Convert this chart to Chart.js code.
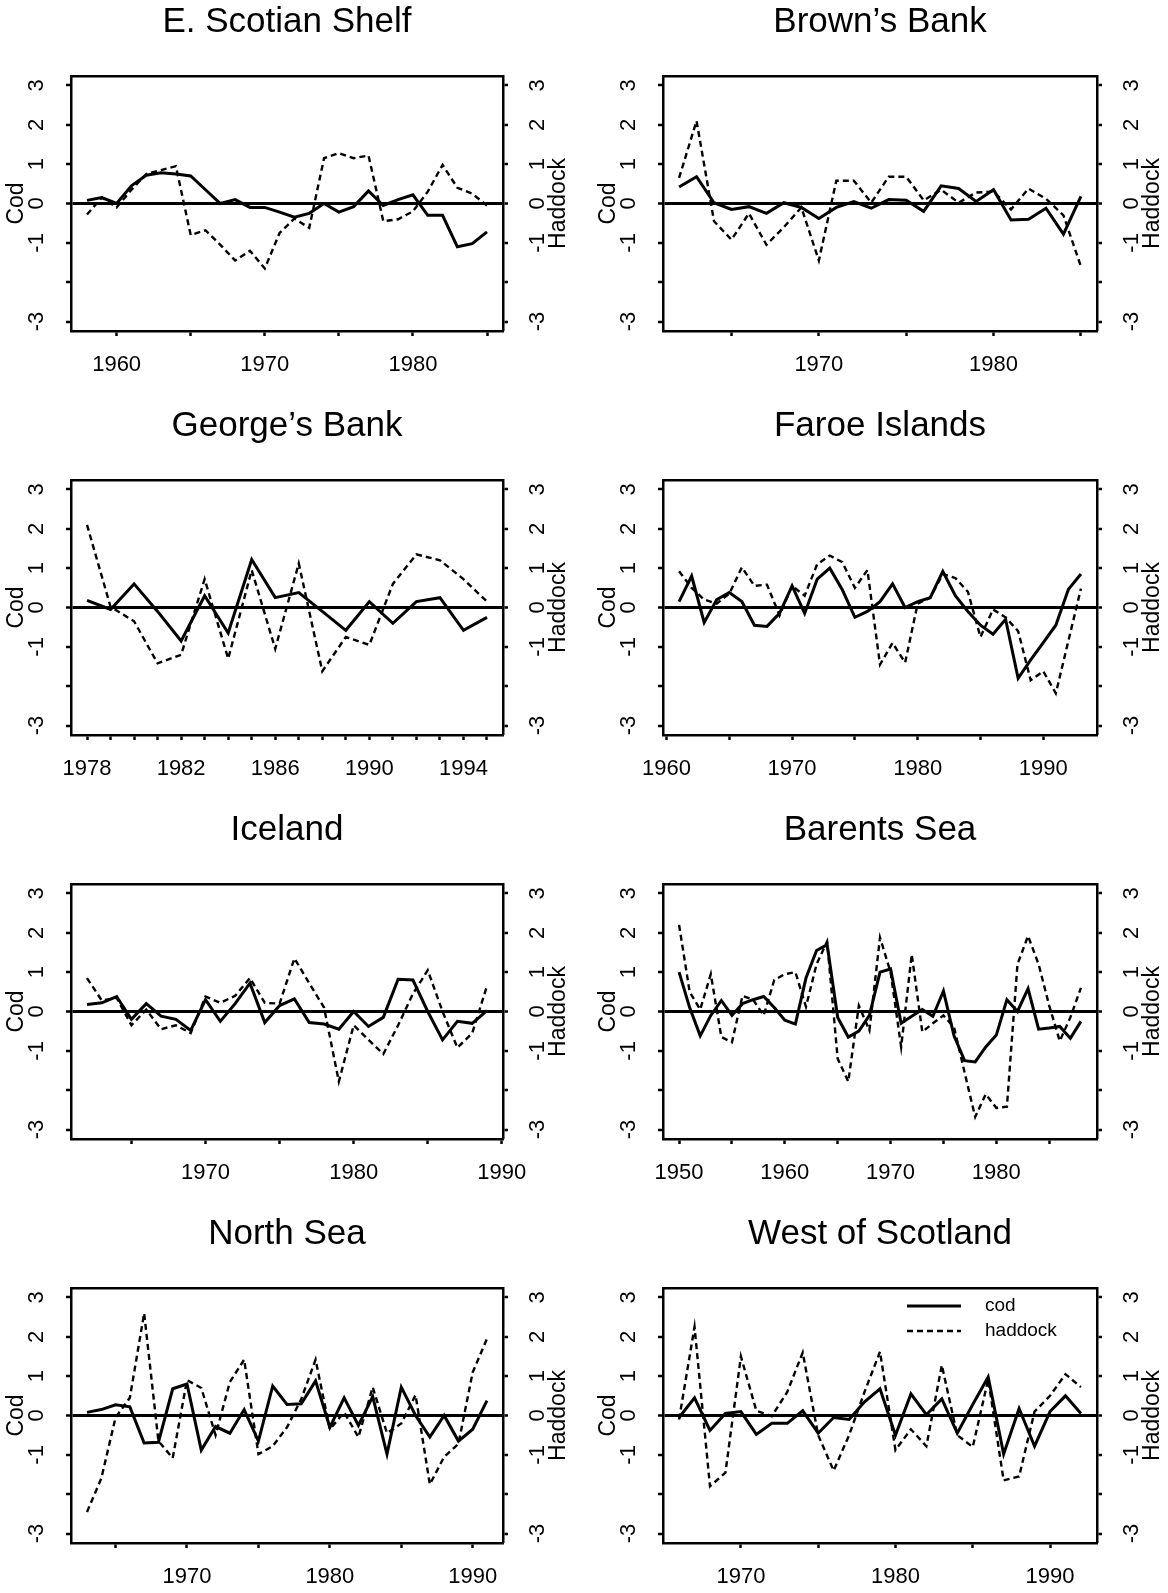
<!DOCTYPE html>
<html lang="en">
<head>
<meta charset="UTF-8">
<title>Cod and haddock recruitment</title>
<script src="https://cdn.jsdelivr.net/npm/chart.js"></script>
<style>
  body { margin: 0; background: #fff; width: 1168px; height: 1593px; overflow: hidden; position: relative; }
  .panel { position: absolute; }
  canvas { display: block; }
</style>
</head>
<body>
<div class="panel" style="left:0;top:0"><canvas id="c0" width="574" height="404"></canvas></div>
<div class="panel" style="left:592px;top:0"><canvas id="c1" width="576" height="404"></canvas></div>
<div class="panel" style="left:0;top:404px"><canvas id="c2" width="574" height="404"></canvas></div>
<div class="panel" style="left:592px;top:404px"><canvas id="c3" width="576" height="404"></canvas></div>
<div class="panel" style="left:0;top:808px"><canvas id="c4" width="574" height="404"></canvas></div>
<div class="panel" style="left:592px;top:808px"><canvas id="c5" width="576" height="404"></canvas></div>
<div class="panel" style="left:0;top:1212px"><canvas id="c6" width="574" height="404"></canvas></div>
<div class="panel" style="left:592px;top:1212px"><canvas id="c7" width="576" height="404"></canvas></div>

<script>
const FONT = '"Liberation Sans", Arial, Helvetica, sans-serif';

// shared y axis (both sides use the same standardised scale)
const yTicks = [-3, -2, -1, 0, 1, 2, 3];
const yTickLabels = ['-3', '', '-1', '0', '1', '2', '3'];
const Y_MIN = -3.24, Y_MAX = 3.24;

function years(a, b) { const out = []; for (let y = a; y <= b; y++) out.push(y); return out; }

// E. Scotian Shelf
const esYears = years(1958, 1985);
const esCod = [0.08, 0.15, 0.0, 0.45, 0.72, 0.78, 0.75, 0.70, 0.35, 0.0, 0.10, -0.10, -0.10, -0.22, -0.35, -0.25, 0.0, -0.22, -0.08, 0.32, -0.05, 0.10, 0.22, -0.30, -0.30, -1.10, -1.02, -0.72];
const esHad = [-0.28, 0.15, -0.10, 0.35, 0.75, 0.85, 0.95, -0.80, -0.68, -1.05, -1.45, -1.20, -1.65, -0.75, -0.38, -0.62, 1.15, 1.28, 1.15, 1.22, -0.45, -0.40, -0.20, 0.30, 0.98, 0.40, 0.25, -0.05];
const esTicks = [1960, 1965, 1970, 1975, 1980, 1985];
const esLabels = [1960, 1970, 1980];

// Brown's Bank
const bbYears = years(1962, 1985);
const bbCod = [0.42, 0.68, 0.02, -0.15, -0.08, -0.25, 0.02, -0.10, -0.38, -0.10, 0.05, -0.12, 0.10, 0.08, -0.20, 0.45, 0.38, 0.05, 0.35, -0.42, -0.40, -0.12, -0.78, 0.18];
const bbHad = [0.65, 2.10, -0.45, -0.92, -0.25, -1.05, -0.60, -0.10, -1.45, 0.58, 0.58, 0.02, 0.68, 0.68, 0.08, 0.35, 0.02, 0.28, 0.30, -0.15, 0.38, 0.12, -0.30, -1.60];
const bbTicks = [1965, 1970, 1975, 1980, 1985];
const bbLabels = [1970, 1980];

// George's Bank
const gbYears = years(1978, 1995);
const gbCod = [0.18, -0.05, 0.60, -0.10, -0.85, 0.30, -0.65, 1.22, 0.25, 0.38, -0.10, -0.58, 0.15, -0.40, 0.15, 0.25, -0.58, -0.25];
const gbHad = [2.10, 0.02, -0.35, -1.42, -1.20, 0.72, -1.30, 0.95, -1.05, 1.12, -1.62, -0.75, -0.95, 0.60, 1.35, 1.20, 0.72, 0.15];
const gbTicks = years(1978, 1995);
const gbLabels = [1978, 1982, 1986, 1990, 1994];

// Faroe Islands
const fiYears = years(1961, 1993);
const fiCod = [0.15, 0.80, -0.38, 0.20, 0.38, 0.15, -0.45, -0.48, -0.15, 0.55,
               -0.15, 0.72, 1.00, 0.45, -0.25, -0.10, 0.15, 0.60, 0.00, 0.15,
               0.25, 0.92, 0.30, -0.10, -0.45, -0.68, -0.30, -1.80, -1.33, -0.89,
               -0.45, 0.46, 0.85];
const fiHad = [0.92, 0.50, 0.20, 0.10, 0.35, 1.02, 0.55, 0.58, -0.20, 0.55,
               0.30, 1.10, 1.32, 1.15, 0.50, 0.95, -1.45, -0.90, -1.40, 0.10,
               0.25, 0.85, 0.75, 0.40, -0.75, -0.05, -0.25, -0.60, -1.85, -1.62,
               -2.18, -0.85, 0.48];
const fiTicks = [1960, 1965, 1970, 1975, 1980, 1985, 1990];
const fiLabels = [1960, 1970, 1980, 1990];

// Iceland
const icYears = years(1962, 1989);
const icCod = [0.18, 0.22, 0.38, -0.20, 0.20, -0.12, -0.20, -0.48, 0.30, -0.25,
               0.20, 0.72, -0.28, 0.15, 0.32, -0.28, -0.32, -0.45, 0.00, -0.38,
               -0.15, 0.82, 0.80, 0.00, -0.72, -0.25, -0.30, 0.02];
const icHad = [0.85, 0.28, 0.35, -0.35, 0.05, -0.45, -0.35, -0.55, 0.38, 0.22,
               0.40, 0.85, 0.22, 0.20, 1.35, 0.72, 0.10, -1.78, -0.35, -0.72,
               -1.08, -0.35, 0.45, 1.05, 0.00, -0.92, -0.55, 0.65];
const icTicks = [1965, 1970, 1975, 1980, 1985, 1990];
const icLabels = [1970, 1980, 1990];

// Barents Sea
const bsYears = years(1950, 1988);
const bsCod = [1.00, 0.10, -0.62, -0.10, 0.28, -0.10, 0.20, 0.30, 0.38, 0.10,
               -0.22, -0.32, 0.85, 1.55, 1.70, -0.15, -0.65, -0.50, -0.10, 1.00,
               1.08, -0.30, -0.12, 0.05, -0.12, 0.52, -0.62, -1.25, -1.28, -0.90,
               -0.60, 0.30, 0.00, 0.58, -0.45, -0.42, -0.38, -0.68, -0.25];
const bsHad = [2.20, 0.50, 0.05, 0.95, -0.65, -0.78, 0.40, 0.30, -0.10, 0.80,
               0.95, 1.00, 0.12, 1.20, 1.78, -1.20, -1.78, 0.15, -0.48, 1.88,
               1.00, -0.90, 1.45, -0.52, -0.30, -0.10, -0.40, -1.55, -2.68, -2.10,
               -2.45, -2.42, 1.20, 1.92, 1.20, 0.15, -0.75, -0.15, 0.60];
const bsTicks = [1950, 1955, 1960, 1965, 1970, 1975, 1980, 1985];
const bsLabels = [1950, 1960, 1970, 1980];

// North Sea
const nsYears = years(1963, 1991);
const nsCod = [0.08, 0.15, 0.27, 0.22, -0.70, -0.68, 0.68, 0.80, -0.88, -0.28,
               -0.45, 0.15, -0.65, 0.75, 0.28, 0.30, 0.88, -0.30, 0.45, -0.25,
               0.48, -0.98, 0.72, 0.00, -0.55, 0.00, -0.65, -0.35, 0.38];
const nsHad = [-2.45, -1.60, -0.05, 0.45, 2.60, -0.65, -1.08, 0.90, 0.70, -0.50,
               0.85, 1.42, -0.98, -0.78, -0.30, 0.42, 1.42, -0.35, 0.08, -0.55,
               0.72, -0.45, -0.20, 0.52, -1.75, -1.05, -0.72, 1.10, 1.95];
const nsTicks = [1965, 1970, 1975, 1980, 1985, 1990];
const nsLabels = [1970, 1980, 1990];

// West of Scotland
const wsYears = years(1966, 1992);
const wsCod = [-0.05, 0.45, -0.38, 0.05, 0.10, -0.48, -0.20, -0.20, 0.12, -0.45,
               -0.05, -0.10, 0.35, 0.68, -0.50, 0.55, 0.02, 0.42, -0.45, 0.28,
               0.98, -0.98, 0.18, -0.78, 0.10, 0.50, 0.05];
const wsHad = [-0.10, 2.25, -1.80, -1.45, 1.50, 0.12, -0.02, 0.60, 1.60, -0.50,
               -1.40, -0.50, 0.60, 1.62, -0.88, -0.35, -0.78, 1.28, -0.50, -0.80,
               0.92, -1.65, -1.55, 0.10, 0.50, 1.05, 0.72];
const wsTicks = [1970, 1975, 1980, 1985, 1990];
const wsLabels = [1970, 1980, 1990];

const panels = [
  { id: 'c0', title: 'E. Scotian Shelf', yrs: esYears, cod: esCod, had: esHad, ticks: esTicks, labels: esLabels },
  { id: 'c1', title: 'Brown\u2019s Bank', yrs: bbYears, cod: bbCod, had: bbHad, ticks: bbTicks, labels: bbLabels },
  { id: 'c2', title: 'George\u2019s Bank', yrs: gbYears, cod: gbCod, had: gbHad, ticks: gbTicks, labels: gbLabels },
  { id: 'c3', title: 'Faroe Islands', yrs: fiYears, cod: fiCod, had: fiHad, ticks: fiTicks, labels: fiLabels },
  { id: 'c4', title: 'Iceland', yrs: icYears, cod: icCod, had: icHad, ticks: icTicks, labels: icLabels },
  { id: 'c5', title: 'Barents Sea', yrs: bsYears, cod: bsCod, had: bsHad, ticks: bsTicks, labels: bsLabels },
  { id: 'c6', title: 'North Sea', yrs: nsYears, cod: nsCod, had: nsHad, ticks: nsTicks, labels: nsLabels },
  { id: 'c7', title: 'West of Scotland', yrs: wsYears, cod: wsCod, had: wsHad, ticks: wsTicks, labels: wsLabels, legend: true }
];

// right-hand axis title reads bottom to top, like the left one
const haddockTitle = {
  id: 'haddockTitle',
  afterDraw(chart) {
    const { ctx, chartArea } = chart;
    ctx.save();
    ctx.font = '23px ' + FONT;
    ctx.fillStyle = '#000';
    ctx.textAlign = 'center';
    ctx.textBaseline = 'middle';
    ctx.translate(chartArea.right + 56, (chartArea.top + chartArea.bottom) / 2);
    ctx.rotate(-Math.PI / 2);
    ctx.fillText('Haddock', 0, 0);
    ctx.restore();
  }
};

// small line legend inside the plot box
const fishLegend = {
  id: 'fishLegend',
  afterDatasetsDraw(chart, args, opts) {
    if (!opts.show) return;
    const { ctx, chartArea: a } = chart;
    const rows = [a.top + 18, a.top + 43];
    ctx.save();
    chart.data.datasets.forEach((ds, i) => {
      const y = rows[i];
      ctx.strokeStyle = ds.borderColor;
      ctx.lineWidth = ds.borderWidth;
      ctx.setLineDash(ds.borderDash || []);
      ctx.beginPath();
      ctx.moveTo(a.left + 244, y);
      ctx.lineTo(a.left + 298, y);
      ctx.stroke();
      ctx.setLineDash([]);
      ctx.fillStyle = '#000';
      ctx.font = '19px ' + FONT;
      ctx.textAlign = 'left';
      ctx.textBaseline = 'middle';
      ctx.fillText(ds.label, a.left + 322, y);
    });
    ctx.restore();
  }
};

function pts(yrs, vals) { return vals.map((v, i) => ({ x: yrs[i], y: v })); }

function yAxis(pos) {
  return {
    type: 'linear', position: pos, min: Y_MIN, max: Y_MAX,
    afterBuildTicks: s => { s.ticks = yTicks.map(v => ({ value: v })); },
    afterFit: s => { s.width = 71; },
    grid: {
      drawOnChartArea: pos === 'left',
      color: c => (c.tick && c.tick.value === 0) ? '#000' : 'rgba(0,0,0,0)',
      lineWidth: c => (c.tick && c.tick.value === 0) ? 3 : 0,
      drawTicks: true, tickLength: 5, tickColor: '#000', tickWidth: 2.5
    },
    border: { display: true, color: '#000', width: 2.5 },
    ticks: {
      minRotation: 90, maxRotation: 90, crossAlign: 'center',
      padding: pos === 'left' ? 19 : 20, color: '#000',
      font: { family: FONT, size: 22 },
      callback: v => yTickLabels[yTicks.indexOf(v)]
    },
    title: pos === 'left'
      ? { display: true, text: 'Cod', color: '#000', font: { family: FONT, size: 23 }, padding: { top: 3, bottom: 0 } }
      : { display: false }
  };
}

function makeChart(p) {
  const first = p.yrs[0], last = p.yrs[p.yrs.length - 1];
  const pad = 0.04 * (last - first);
  new Chart(document.getElementById(p.id), {
    type: 'line',
    data: {
      datasets: [
        { label: 'cod', data: pts(p.yrs, p.cod), yAxisID: 'y', borderColor: '#000', borderWidth: 3, pointRadius: 0, tension: 0 },
        { label: 'haddock', data: pts(p.yrs, p.had), yAxisID: 'y2', borderColor: '#000', borderWidth: 2.4, borderDash: [6, 4], pointRadius: 0, tension: 0 }
      ]
    },
    options: {
      responsive: false,
      animation: false,
      events: [],
      layout: { padding: 0 },
      plugins: {
        legend: { display: false },
        tooltip: { enabled: false },
        title: {
          display: true, text: p.title, color: '#000',
          font: { family: FONT, size: 35, weight: 'normal' },
          padding: { top: 1, bottom: 33 }
        },
        fishLegend: { show: !!p.legend }
      },
      scales: {
        x: {
          type: 'linear', position: 'bottom', min: first - pad, max: last + pad,
          afterBuildTicks: s => { s.ticks = p.ticks.map(v => ({ value: v })); },
          afterFit: s => { s.height = 73; },
          grid: { drawOnChartArea: false, drawTicks: true, tickLength: 5, tickColor: '#000', tickWidth: 2.5 },
          border: { display: true, color: '#000', width: 2.5 },
          ticks: {
            autoSkip: false, minRotation: 0, maxRotation: 0, padding: 16, color: '#000',
            font: { family: FONT, size: 22 },
            callback: v => p.labels.includes(v) ? String(v) : ''
          }
        },
        x2: {
          type: 'linear', position: 'top', min: 0, max: 1,
          afterFit: s => { s.height = 0; },
          grid: { display: false },
          ticks: { display: false },
          border: { display: true, color: '#000', width: 2.5 }
        },
        y: yAxis('left'),
        y2: yAxis('right')
      }
    },
    plugins: [haddockTitle, fishLegend]
  });
}

panels.forEach(makeChart);
</script>
</body>
</html>
